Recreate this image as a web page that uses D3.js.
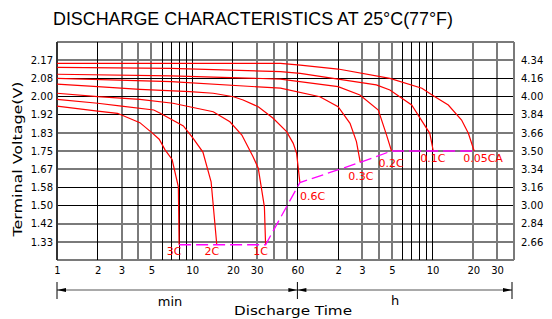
<!DOCTYPE html>
<html>
<head>
<meta charset="utf-8">
<script src="https://cdn.jsdelivr.net/npm/d3@7"></script>
<style>
  html, body { margin: 0; padding: 0; background: #fff; }
  svg { display: block; }
  text { font-family: "DejaVu Sans", sans-serif; }
</style>
</head>
<body>
<svg id="chart" width="552" height="319"></svg>
<script>
// ---- data (time in minutes, volts per cell) ----
var rates = ["0.05CA", "0.1C", "0.2C", "0.3C", "0.6C", "1C", "2C", "3C"];

var t005 = [1, 7, 45, 63, 120, 290, 500, 607, 784, 983, 1103, 1218];
var v005 = [2.152, 2.152, 2.152, 2.144, 2.126, 2.083, 2.038, 2.004, 1.961, 1.892, 1.831, 1.75];

var t01 = [1, 7, 45, 63, 120, 230, 290, 420, 572, 607];
var v01 = [2.134, 2.129, 2.114, 2.106, 2.080, 2.053, 2.030, 1.961, 1.831, 1.75];

var t02 = [1, 7, 45, 120, 174, 238, 274, 298];
var v02 = [2.102, 2.095, 2.080, 2.045, 2.007, 1.938, 1.823, 1.75];

var t03 = [1, 7, 45, 88, 120, 147, 164, 175];
var v03 = [2.083, 2.068, 2.038, 1.999, 1.953, 1.877, 1.793, 1.698];

var t06 = [1, 2, 4.1, 9.6, 14.3, 20.2, 23.8, 30.8, 39.7, 49.9, 55.9, 59.2, 62.6];
var v06 = [2.057, 2.045, 2.033, 2.022, 2.015, 1.999, 1.984, 1.953, 1.900, 1.839, 1.785, 1.739, 1.605];

var t1 = [1, 2, 4.1, 7.2, 14.3, 19, 23.3, 28.2, 30.8, 34.2, 34.9];
var v1 = [2.015, 1.999, 1.987, 1.969, 1.930, 1.884, 1.823, 1.724, 1.671, 1.494, 1.32];

var t2 = [1, 2, 3, 5.2, 5.8, 8.6, 10.1, 12, 13.8, 15.2];
var v2 = [1.987, 1.969, 1.956, 1.938, 1.923, 1.865, 1.81, 1.745, 1.609, 1.32];

var t3 = [1, 2, 2.8, 4.1, 5.1, 5.7, 6.3, 7.1, 7.9, 8.0];
var v3 = [1.956, 1.933, 1.923, 1.880, 1.831, 1.804, 1.755, 1.711, 1.586, 1.32];

var times = [t005, t01, t02, t03, t06, t1, t2, t3];
var volts = [v005, v01, v02, v03, v06, v1, v2, v3];

// axis ticks
var leftTicks  = [2.1667, 2.0833, 2.0, 1.9167, 1.8333, 1.75, 1.6667, 1.5833, 1.5, 1.4167, 1.3333];
var leftLabels = ["2.17", "2.08", "2.00", "1.92", "1.83", "1.75", "1.67", "1.58", "1.50", "1.42", "1.33"];
var rightLabels = ["4.34", "4.16", "4.00", "3.84", "3.66", "3.50", "3.34", "3.16", "3.00", "2.84", "2.66"];
var xTicks  = [1, 2, 3, 5, 10, 20, 30, 60, 120, 180, 300, 600, 1200, 1800];
var xLabels = ["1", "2", "3", "5", "10", "20", "30", "60", "2", "3", "5", "10", "20", "30"];

// grid: which lines are drawn heavy grey vs thin black
var vGridBlack = [2, 6, 7, 8, 9, 10, 20, 60, 120, 360, 420, 480, 540, 600];
var vGridGrey  = [3, 4, 5, 30, 40, 50, 180, 240, 300, 1200, 1800];
var hGridBlack = [2.0833, 2.0, 1.9167, 1.5833, 1.5];
var hGridGrey  = [2.25, 2.1667, 1.8333, 1.75, 1.6667, 1.4167, 1.3333, 1.25];

// label nudges from each curve's end point [dx, dy, anchor]
var labelNudge = [[-11, 11, "start"], [-13, 11, "start"], [-13, 16, "start"], [-12, 18, "start"],
                  [0, 17, "start"], [-5, 10, "middle"], [-5, 10, "middle"], [-5, 10, "middle"]];

var svg = d3.select("#chart");

var x = d3.scaleLog().domain([1, 2400]).range([57, 514]);
var y = d3.scaleLinear().domain([1.25, 2.25]).range([260, 42]);

// title
svg.append("text")
    .attr("x", 53).attr("y", 25)
    .attr("textLength", 400).attr("lengthAdjust", "spacingAndGlyphs")
    .style("font-family", "'Liberation Sans', Arial, sans-serif")
    .style("font-size", "18px")
    .text("DISCHARGE CHARACTERISTICS AT 25\u00B0C(77\u00B0F)");

// grid
var grid = svg.append("g").attr("shape-rendering", "crispEdges");
grid.selectAll(".vg").data(vGridGrey).enter().append("line")
    .attr("x1", d => x(d)).attr("x2", d => x(d)).attr("y1", y(2.25)).attr("y2", y(1.25))
    .attr("stroke", "#7a7a7a").attr("stroke-width", 2);
grid.selectAll(".hg").data(hGridGrey).enter().append("line")
    .attr("x1", x(1)).attr("x2", x(2400)).attr("y1", d => y(d)).attr("y2", d => y(d))
    .attr("stroke", "#7a7a7a").attr("stroke-width", 2);
grid.selectAll(".vb").data(vGridBlack).enter().append("line")
    .attr("x1", d => x(d)).attr("x2", d => x(d)).attr("y1", y(2.25)).attr("y2", y(1.25))
    .attr("stroke", "#000").attr("stroke-width", 1);
grid.selectAll(".hb").data(hGridBlack).enter().append("line")
    .attr("x1", x(1)).attr("x2", x(2400)).attr("y1", d => y(d)).attr("y2", d => y(d))
    .attr("stroke", "#000").attr("stroke-width", 1);
grid.append("line").attr("x1", x(1)).attr("x2", x(1)).attr("y1", y(2.25)).attr("y2", y(1.25))
    .attr("stroke", "#333").attr("stroke-width", 2);
grid.append("line").attr("x1", x(2400)).attr("x2", x(2400)).attr("y1", y(2.25)).attr("y2", y(1.25))
    .attr("stroke", "#7a7a7a").attr("stroke-width", 2);

// axes (labels only)
var leftAxis = d3.axisLeft(y).tickValues(leftTicks).tickSize(0).tickPadding(4)
    .tickFormat((d, i) => leftLabels[i]);
svg.append("g").attr("transform", "translate(" + (x(1) - 0) + ",0)").call(leftAxis)
    .call(g => g.select(".domain").remove());

var rightAxis = d3.axisRight(y).tickValues(leftTicks).tickSize(0).tickPadding(7)
    .tickFormat((d, i) => rightLabels[i]);
svg.append("g").attr("transform", "translate(" + x(2400) + ",0)").call(rightAxis)
    .call(g => g.select(".domain").remove());

var bottomAxis = d3.axisBottom(x).tickValues(xTicks).tickSize(0).tickPadding(7)
    .tickFormat((d, i) => xLabels[i]);
svg.append("g").attr("transform", "translate(0," + y(1.25) + ")").call(bottomAxis)
    .call(g => g.select(".domain").remove());

svg.selectAll(".tick text")
    .style("font-family", "'DejaVu Sans', sans-serif")
    .style("font-size", "10px").attr("fill", "#000");

// y title
svg.append("text")
    .attr("transform", "translate(22,159) rotate(-90)")
    .attr("text-anchor", "middle")
    .attr("textLength", 155).attr("lengthAdjust", "spacingAndGlyphs")
    .style("font-size", "13px")
    .text("Terminal  Voltage(V)");

// curves
var line = d3.line().x(d => x(d[0])).y(d => y(d[1]));
var curves = rates.map((r, i) => times[i].map((t, j) => [t, volts[i][j]]));

svg.append("g").selectAll("path").data(curves).enter().append("path")
    .attr("d", line)
    .attr("fill", "none").attr("stroke", "#ff0000").attr("stroke-width", 1.2);

// end-voltage dashed line through curve end points
var ends = curves.map(c => c[c.length - 1]).sort((a, b) => a[0] - b[0]);
svg.append("path").datum(ends)
    .attr("d", line)
    .attr("fill", "none").attr("stroke", "#ff00ff").attr("stroke-width", 1.3)
    .attr("stroke-dasharray", "12,5");

// rate labels
svg.append("g").selectAll("text").data(curves).enter().append("text")
    .attr("x", (c, i) => x(c[c.length - 1][0]) + labelNudge[i][0])
    .attr("y", (c, i) => y(c[c.length - 1][1]) + labelNudge[i][1])
    .attr("text-anchor", (c, i) => labelNudge[i][2])
    .attr("fill", "#ff0000")
    .style("font-size", "11px")
    .text((c, i) => rates[i]);

// bottom bracket: min | h
var by = 290;
var bx = [x(1), x(60), x(2400) - 2];
svg.append("line").attr("x1", bx[0]).attr("x2", bx[2]).attr("y1", by).attr("y2", by)
    .attr("stroke", "#555").attr("stroke-width", 1);
svg.selectAll(".btick").data(bx).enter().append("line")
    .attr("x1", d => d).attr("x2", d => d).attr("y1", by - 8).attr("y2", by + 9)
    .attr("stroke", "#000").attr("stroke-width", 1);
var arrows = [[bx[0], 1], [bx[1], -1], [bx[1], 1], [bx[2], -1]];
svg.selectAll(".arr").data(arrows).enter().append("path")
    .attr("d", d => "M" + d[0] + "," + by + "L" + (d[0] + d[1] * 9) + "," + (by - 2) +
                    "L" + (d[0] + d[1] * 9) + "," + (by + 2) + "Z")
    .attr("fill", "#000");

svg.append("text").attr("x", 170).attr("y", 306).attr("text-anchor", "middle")
    .style("font-size", "13px").text("min");
svg.append("text").attr("x", 395).attr("y", 305).attr("text-anchor", "middle")
    .style("font-size", "13px").text("h");
svg.append("text").attr("x", 293).attr("y", 315).attr("text-anchor", "middle")
    .attr("textLength", 118).attr("lengthAdjust", "spacingAndGlyphs")
    .style("font-size", "13px").text("Discharge Time");
</script>
</body>
</html>
